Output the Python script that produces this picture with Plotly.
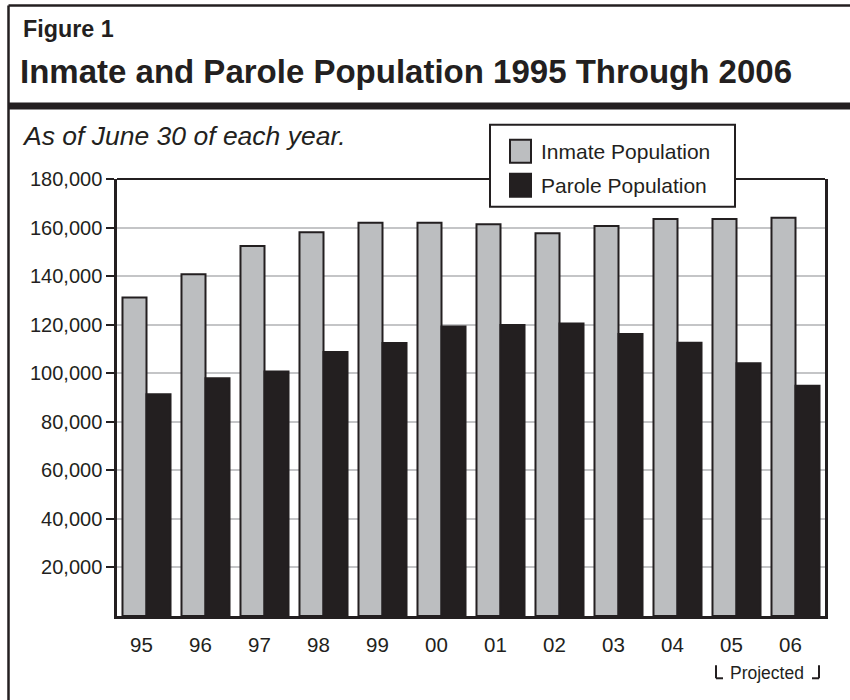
import plotly.graph_objects as go

years = ["95", "96", "97", "98", "99", "00", "01", "02", "03", "04", "05", "06"]
inmate = [131200, 140800, 152400, 158100, 162000, 162000, 161400, 157700, 160600, 163500, 163500, 164000]
parole = [91300, 97900, 100700, 108700, 112500, 119200, 119900, 120500, 116200, 112600, 104100, 94800]
y_ticks = [20000, 40000, 60000, 80000, 100000, 120000, 140000, 160000, 180000]

GRAY = "#bcbec0"
DARK = "#231f20"
GRID = "#c4c5c7"
FONT = "Liberation Sans, Arial, sans-serif"

W, H = 850, 700
L, R, T, B = 117, 825, 179.3, 615.8


def fx(px):
    return (px - L) / (R - L)


def fy(py):
    return (B - py) / (B - T)


fig = go.Figure()
fig.add_trace(go.Bar(x=years, y=inmate, name="Inmate Population",
                     marker=dict(color=GRAY, line=dict(color=DARK, width=2))))
fig.add_trace(go.Bar(x=years, y=parole, name="Parole Population",
                     marker=dict(color=DARK, line=dict(color=DARK, width=2))))

shapes = []


def line(x0, y0, x1, y1, w=2):
    shapes.append(dict(type="line", xref="paper", yref="paper",
                       x0=fx(x0), y0=fy(y0), x1=fx(x1), y1=fy(y1),
                       line=dict(color=DARK, width=w)))


def rect(x0, y0, x1, y1, fill, w=2):
    shapes.append(dict(type="rect", xref="paper", yref="paper",
                       x0=fx(x0), y0=fy(y0), x1=fx(x1), y1=fy(y1),
                       fillcolor=fill, line=dict(color=DARK, width=w)))


# outer frame
line(8.5, 6, 8.5, 700, 2.5)
line(8.5, 6, 852, 6, 2.5)
line(8.5, 106.5, 852, 106.5, 7)
# plot top frame
line(L, T, R, T, 2)
# legend box
rect(490, 125, 735, 207, "white", 2)
rect(510, 140, 531, 163, GRAY, 2)
rect(510, 174, 531, 197, DARK, 2)
# projected bracket
line(716, 665, 716, 678, 2)
line(716, 678, 723, 678, 2)
line(819, 665, 819, 678, 2)
line(819, 678, 812, 678, 2)

annotations = [
    dict(text="<b>Figure 1</b>", x=fx(21), y=fy(29), font=dict(size=23.3)),
    dict(text="<b>Inmate and Parole Population 1995 Through 2006</b>", x=fx(18), y=fy(72), font=dict(size=33)),
    dict(text="<i>As of June 30 of each year.</i>", x=fx(20), y=fy(136), font=dict(size=26.5)),
    dict(text="Inmate Population", x=fx(539), y=fy(152), font=dict(size=21)),
    dict(text="Parole Population", x=fx(539), y=fy(186), font=dict(size=21)),
    dict(text="Projected", x=fx(767), y=fy(673), font=dict(size=17.5), xanchor="center"),
]
for a in annotations:
    a.setdefault("xanchor", "left")
    a.update(xref="paper", yref="paper", yanchor="middle", showarrow=False)
    a["font"].update(family=FONT, color=DARK)

fig.update_layout(
    width=W, height=H,
    margin=dict(l=L, r=W - R, t=T, b=H - B, pad=0),
    paper_bgcolor="white", plot_bgcolor="white",
    barmode="group", bargap=0.186, bargroupgap=0,
    showlegend=False,
    font=dict(family=FONT, color=DARK, size=20),
    shapes=shapes, annotations=annotations,
)
fig.update_xaxes(type="category", showline=True, linecolor=DARK, linewidth=3,
                 ticks="", showgrid=False, tickfont=dict(size=20.5),
                 ticklabelshift=-5, ticklabelstandoff=8)
fig.update_yaxes(range=[0, 180000], tickvals=y_ticks, tickformat=",d",
                 showline=True, linecolor=DARK, linewidth=2.5, mirror=True,
                 ticks="outside", ticklen=8, tickwidth=2, tickcolor=DARK,
                 showgrid=True, gridcolor=GRID, gridwidth=2, zeroline=False,
                 tickfont=dict(size=20))

fig.write_html("out.html")
